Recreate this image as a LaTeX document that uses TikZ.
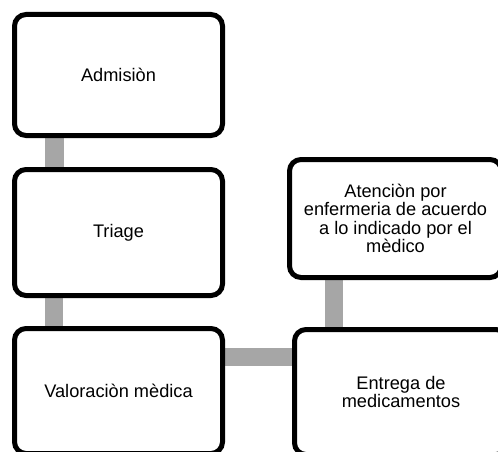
\documentclass[tikz,border=0pt]{standalone}
\usepackage{fontspec}
\setmainfont{Liberation Sans}
\usetikzlibrary{backgrounds}

\tikzset{
  paso/.style={draw=black, fill=white, line width=5pt, rounded corners=11.5pt,
    align=center, inner sep=0pt, font=\fontsize{18.2}{18.4}\selectfont},
  conector/.style={draw=black!35, line width=19pt}
}

\begin{document}
\begin{tikzpicture}[x=1pt, y=1pt]
			%%%%% START %%%%%
			
			\useasboundingbox (0, 0) rectangle (498, 451);
			\clip (0, 0) rectangle (498, 451);
			
			\node[paso, minimum width=208pt, minimum height=121pt] (adm) at (118.5, 376) {Admisiòn};
			\node[paso, minimum width=208pt, minimum height=126pt] (tri) at (118.5, 218.5) {Triage};
			\node[paso, minimum width=208pt, minimum height=125pt] (val) at (118.5, 60) {Valoraciòn mèdica};
			
			\node[paso, minimum width=212pt, minimum height=118pt] (ate) at (395.5, 232.5)
				{Atenciòn por\\enfermeria de acuerdo\\a lo indicado por el\\mèdico};
			\node[paso, minimum width=213pt, minimum height=125pt] (ent) at (401, 59)
				{Entrega de\\medicamentos};
			
			\begin{scope}[on background layer]
				\draw[conector] ([xshift=42pt]adm.south west) -- ([xshift=42pt]tri.north west);
				\draw[conector, line width=18pt] ([xshift=42pt]tri.south west) -- ([xshift=42pt]val.north west);
				\draw[conector, line width=18pt] ([yshift=-31pt]val.north east) -- ([yshift=-31pt]val.north east -| ent.west);
				\draw[conector, line width=18pt] ([xshift=47pt]ate.south west) -- ([xshift=42pt]ent.north west);
			\end{scope}
			
			%%%%% END %%%%%
\end{tikzpicture}
\end{document}
